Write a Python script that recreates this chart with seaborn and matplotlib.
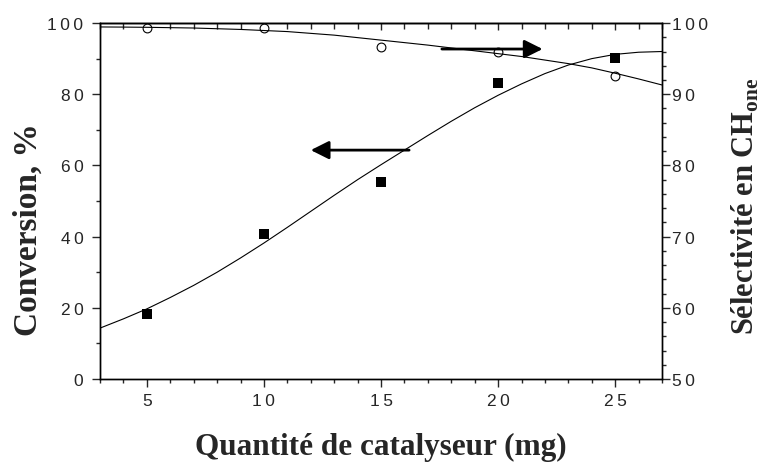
import matplotlib
matplotlib.use("Agg")
import matplotlib.pyplot as plt
import matplotlib.ticker as mticker
import seaborn as sns
import pandas as pd

# Points mesurés
catalyst_mg = [5, 10, 15, 20, 25]
conversion = [18.3, 40.7, 55.3, 83.1, 90.2]
selectivity = [99.3, 99.3, 96.7, 96.0, 92.5]

# Courbes d'ajustement
fit_x = [3, 4, 5, 6, 7, 8, 9, 10, 11, 12, 13, 14, 15, 16, 17, 18, 19, 20,
         21, 22, 23, 24, 25, 26, 27]
conv_fit = [14.3, 16.9, 19.7, 22.9, 26.3, 30.0, 34.0, 38.2, 42.6, 47.1, 51.6,
            56.0, 60.2, 64.3, 68.4, 72.4, 76.2, 79.7, 82.9, 85.8, 88.2, 90.0,
            91.2, 91.8, 92.0]
sel_fit = [99.45, 99.43, 99.4, 99.35, 99.3, 99.2, 99.1, 98.95, 98.8, 98.55,
           98.3, 97.95, 97.6, 97.25, 96.9, 96.5, 96.1, 95.7, 95.3, 94.8, 94.3,
           93.7, 92.95, 92.15, 91.3]

pts = pd.DataFrame({"x": catalyst_mg, "conv": conversion, "sel": selectivity})
fit = pd.DataFrame({"x": fit_x, "conv": conv_fit, "sel": sel_fit})

sns.set_style("ticks")
plt.rcParams['font.family'] = ['Liberation Sans', 'DejaVu Sans']
plt.rcParams['mathtext.fontset'] = 'custom'
plt.rcParams['mathtext.rm'] = 'Liberation Serif:bold'
plt.rcParams['mathtext.bf'] = 'Liberation Serif:bold'
plt.rcParams['axes.linewidth'] = 1.0


def spaced(v, pos):
    # étiquettes avec chiffres espacés
    return "\u2009".join(f"{v:g}")


fig = plt.figure(figsize=(7.64, 4.64), dpi=100)
ax = fig.add_axes([0.1309, 0.181, 0.7356, 0.7672])
ax2 = ax.twinx()

sns.lineplot(data=fit, x="x", y="conv", ax=ax, color="black", lw=0.8)
sns.scatterplot(data=pts, x="x", y="conv", ax=ax, marker="s", s=55,
                color="black", edgecolor="black", linewidth=0)
sns.lineplot(data=fit, x="x", y="sel", ax=ax2, color="black", lw=0.8)
sns.scatterplot(data=pts, x="x", y="sel", ax=ax2, marker="o", s=40,
                facecolor="white", edgecolor="black", linewidth=0.8)

ax.set_xlim(3, 27)
ax.set_ylim(0, 100)
ax2.set_ylim(50, 100)

ax.xaxis.set_major_locator(mticker.MultipleLocator(5))
ax.xaxis.set_minor_locator(mticker.MultipleLocator(1))
ax.yaxis.set_major_locator(mticker.MultipleLocator(20))
ax.yaxis.set_minor_locator(mticker.MultipleLocator(10))
ax2.yaxis.set_major_locator(mticker.MultipleLocator(10))
ax2.yaxis.set_minor_locator(mticker.MultipleLocator(2))
for a in (ax.xaxis, ax.yaxis, ax2.yaxis):
    a.set_major_formatter(mticker.FuncFormatter(spaced))

ax.tick_params(axis="x", which="major", length=6, width=1, labelsize=12.5, pad=4)
ax.tick_params(axis="x", which="minor", length=3, width=1)
ax.tick_params(axis="y", which="major", length=6, width=1, labelsize=12.5, pad=6)
ax.tick_params(axis="y", which="minor", length=3, width=1)
ax2.tick_params(axis="y", which="major", length=6, width=1, labelsize=12.5, pad=1.5)
ax2.tick_params(axis="y", which="minor", length=3, width=1)

top = ax.secondary_xaxis("top")
top.xaxis.set_major_locator(mticker.MultipleLocator(5))
top.xaxis.set_minor_locator(mticker.MultipleLocator(1))
top.tick_params(which="major", direction="in", length=5, width=1, labeltop=False)
top.tick_params(which="minor", direction="in", length=4, width=1)
top.spines["top"].set_linewidth(1.0)

for a in (ax, ax2):
    for s in a.spines.values():
        s.set_color("black")

# Flèches indiquant l'axe de chaque courbe
ax.annotate("", xy=(12.0, 64.3), xytext=(16.2, 64.3),
            arrowprops=dict(arrowstyle="-|>,head_length=1.1,head_width=0.55",
                            lw=2, color="black", shrinkA=0, shrinkB=0))
ax2.annotate("", xy=(21.9, 96.35), xytext=(17.6, 96.35),
             arrowprops=dict(arrowstyle="-|>,head_length=1.1,head_width=0.55",
                             lw=2, color="black", shrinkA=0, shrinkB=0))

serif = dict(family="Liberation Serif", weight="bold")
ax.set_xlabel("Quantité de catalyseur (mg)", fontsize=22.5, **serif)
ax.set_ylabel("Conversion, %", fontsize=24, **serif)
ax2.set_ylabel(r"Sélectivité en CH$_{\mathbf{one}}$", fontsize=22, **serif)
ax.xaxis.label.set(va="center", ha="center")
ax.yaxis.label.set(va="center", ha="center")
ax2.yaxis.label.set(va="center", ha="center")
ax.xaxis.set_label_coords(0.5, -0.19)
ax.yaxis.set_label_coords(-0.128, 0.424)
ax2.yaxis.set_label_coords(1.148, 0.489)

fig.savefig("out.png", dpi=100)
